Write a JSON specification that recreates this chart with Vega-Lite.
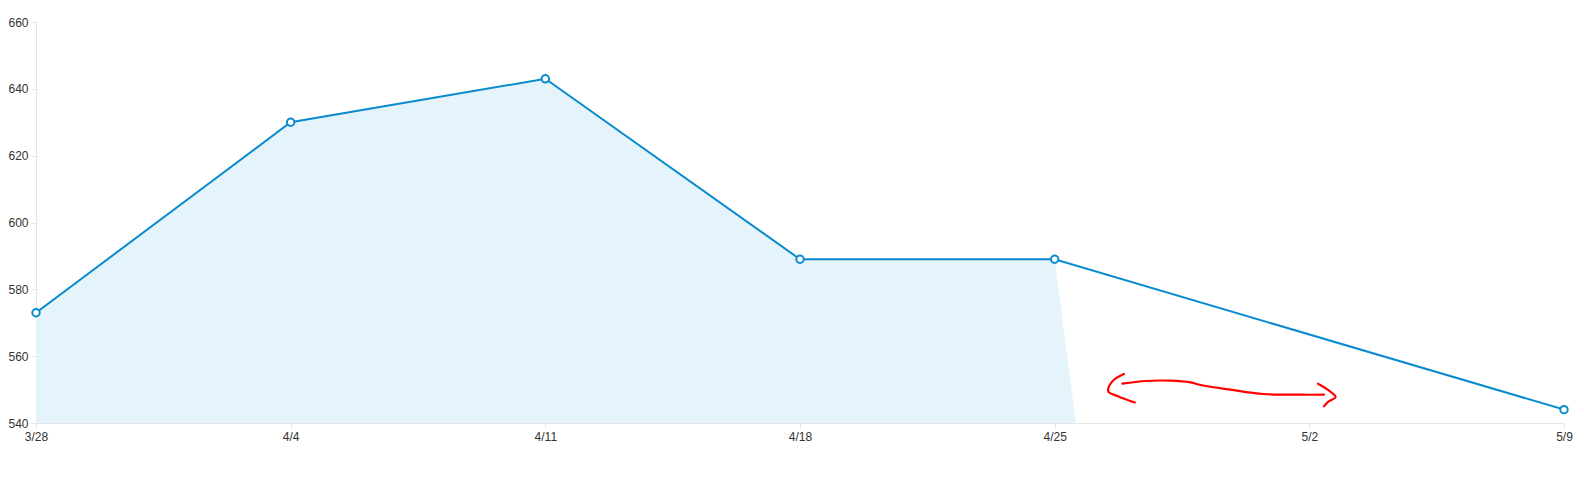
{
  "$schema": "https://vega.github.io/schema/vega-lite/v6.json",
  "width": 1528,
  "height": 401,
  "autosize": "none",
  "padding": {"left": 36, "top": 22, "right": 20, "bottom": 68},
  "background": "white",
  "config": {
    "view": {"stroke": null},
    "font": "Liberation Sans",
    "axis": {
      "labelFont": "Liberation Sans",
      "labelFontSize": 12,
      "labelColor": "#333333",
      "domainColor": "#e6e6e6",
      "tickColor": "#e6e6e6",
      "tickSize": 5,
      "grid": false,
      "title": null
    }
  },
  "datasets": {
    "series": [
      {"date": "2016-03-28T00:00:00", "value": 573},
      {"date": "2016-04-04T00:00:00", "value": 630},
      {"date": "2016-04-11T00:00:00", "value": 643},
      {"date": "2016-04-18T00:00:00", "value": 589},
      {"date": "2016-04-25T00:00:00", "value": 589},
      {"date": "2016-05-09T00:00:00", "value": 544}
    ],
    "filled": [
      {"date": "2016-03-28T00:00:00", "value": 573},
      {"date": "2016-04-04T00:00:00", "value": 630},
      {"date": "2016-04-11T00:00:00", "value": 643},
      {"date": "2016-04-18T00:00:00", "value": 589},
      {"date": "2016-04-25T00:00:00", "value": 589},
      {"date": "2016-05-02T00:00:00", "value": 0},
      {"date": "2016-05-09T00:00:00", "value": 0}
    ],
    "scribble": [
      {"stroke": "left", "k": 1, "date": "2016-04-26T21:40:00", "value": 554.66},
      {"stroke": "left", "k": 2, "date": "2016-04-26T14:01:00", "value": 552.45},
      {"stroke": "left", "k": 3, "date": "2016-04-26T11:23:00", "value": 549.46},
      {"stroke": "left", "k": 4, "date": "2016-04-26T18:10:00", "value": 547.96},
      {"stroke": "left", "k": 5, "date": "2016-04-27T04:55:00", "value": 546.16},
      {"stroke": "main", "k": 1, "date": "2016-04-26T20:37:00", "value": 551.76},
      {"stroke": "main", "k": 2, "date": "2016-04-27T12:00:00", "value": 552.57},
      {"stroke": "main", "k": 3, "date": "2016-04-28T04:29:00", "value": 552.66},
      {"stroke": "main", "k": 4, "date": "2016-04-28T17:41:00", "value": 552.15},
      {"stroke": "main", "k": 5, "date": "2016-04-29T00:17:00", "value": 551.37},
      {"stroke": "main", "k": 6, "date": "2016-04-29T20:05:00", "value": 549.97},
      {"stroke": "main", "k": 7, "date": "2016-04-30T17:51:00", "value": 548.68},
      {"stroke": "main", "k": 8, "date": "2016-05-01T18:16:00", "value": 548.47},
      {"stroke": "main", "k": 9, "date": "2016-05-02T09:39:00", "value": 548.47},
      {"stroke": "right", "k": 1, "date": "2016-05-02T05:41:00", "value": 551.76},
      {"stroke": "right", "k": 2, "date": "2016-05-02T12:45:00", "value": 549.76},
      {"stroke": "right", "k": 3, "date": "2016-05-02T17:21:00", "value": 547.78},
      {"stroke": "right", "k": 4, "date": "2016-05-02T12:45:00", "value": 546.46},
      {"stroke": "right", "k": 5, "date": "2016-05-02T09:39:00", "value": 544.97}
    ]
  },
  "encoding": {
    "x": {
      "field": "date",
      "type": "temporal",
      "scale": {
        "domain": [
          {"year": 2016, "month": 3, "date": 28},
          {"year": 2016, "month": 5, "date": 9}
        ]
      },
      "axis": {
        "format": "%-m/%-d",
        "labelPadding": 3,
        "labelFlush": false,
        "labelOverlap": false,
        "values": [
          {"year": 2016, "month": 3, "date": 28},
          {"year": 2016, "month": 4, "date": 4},
          {"year": 2016, "month": 4, "date": 11},
          {"year": 2016, "month": 4, "date": 18},
          {"year": 2016, "month": 4, "date": 25},
          {"year": 2016, "month": 5, "date": 2},
          {"year": 2016, "month": 5, "date": 9}
        ]
      }
    },
    "y": {
      "field": "value",
      "type": "quantitative",
      "scale": {"domain": [540, 660], "zero": false, "nice": false},
      "axis": {"values": [540, 560, 580, 600, 620, 640, 660], "labelPadding": 3}
    }
  },
  "layer": [
    {
      "data": {"name": "filled"},
      "mark": {"type": "area", "color": "#e5f3fa", "clip": true, "opacity": 1},
      "encoding": {"y2": {"datum": 540}}
    },
    {
      "data": {"name": "series"},
      "mark": {"type": "line", "color": "#0a8bcf", "strokeWidth": 2, "clip": true}
    },
    {
      "data": {"name": "series"},
      "mark": {"type": "point", "shape": "circle", "filled": true, "fill": "white", "stroke": "#0a8bcf", "strokeWidth": 2, "size": 55, "opacity": 1}
    },
    {
      "data": {"name": "scribble"},
      "mark": {"type": "line", "color": "#ff0000", "strokeWidth": 2.2, "interpolate": "catmull-rom", "strokeCap": "round", "strokeJoin": "round"},
      "encoding": {
        "detail": {"field": "stroke"},
        "order": {"field": "k", "type": "quantitative"}
      }
    }
  ]
}
